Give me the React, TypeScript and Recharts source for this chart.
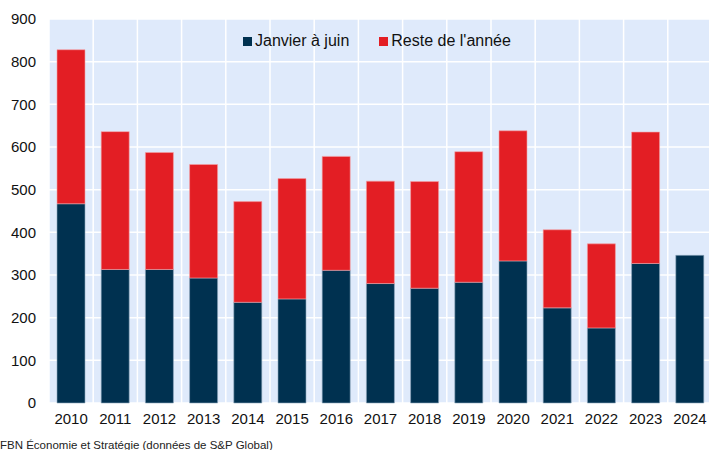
import { BarChart, Bar, XAxis, YAxis, CartesianGrid } from 'recharts';

const years = ['2010', '2011', '2012', '2013', '2014', '2015', '2016', '2017', '2018', '2019', '2020', '2021', '2022', '2023', '2024'];
const janJuin = [467, 313, 313, 293, 236, 244, 311, 280, 269, 283, 333, 223, 176, 327, 346];
const reste = [361, 323, 274, 266, 236, 282, 267, 240, 250, 306, 305, 183, 197, 308, 0];
const yTicks = [0, 100, 200, 300, 400, 500, 600, 700, 800, 900];

const DARK = '#003150';
const RED = '#e31e24';

const data = years.map((y, i) => ({ year: y, jan: janJuin[i], reste: reste[i] }));

// legend drawn as an overlay so it doesn't shrink the plot area
const LegendBox = () => (
  <div style={{ position: 'absolute', left: 243, top: 32, display: 'flex', gap: 30, fontSize: 16, color: '#111' }}>
    <div style={{ display: 'flex', alignItems: 'center', gap: 3 }}>
      <div style={{ width: 9, height: 9, background: DARK }} />
      <span>Janvier à juin</span>
    </div>
    <div style={{ display: 'flex', alignItems: 'center', gap: 3 }}>
      <div style={{ width: 9, height: 9, background: RED }} />
      <span>Reste de l'année</span>
    </div>
  </div>
);

export default function App() {
  return (
    <div style={{ position: 'absolute', left: 0, top: 0, width: 709, height: 450, overflow: 'hidden', background: '#fff', fontFamily: '"Liberation Sans", Arial, sans-serif' }}>
      <BarChart width={712} height={450} data={data} margin={{ top: 19, right: 0, bottom: 17, left: 0 }}>
        <CartesianGrid
          fill="#dfeafb"
          stroke="#ffffff"
          strokeWidth={1.5}
          verticalCoordinatesGenerator={({ offset }: any) =>
            years.map((_, i) => offset.left + (i * offset.width) / years.length).concat([offset.left + offset.width])
          }
        />
        <XAxis dataKey="year" tickLine={false} axisLine={false} tickSize={0} tickMargin={10} height={30} tick={{ fill: '#111', fontSize: 15 }} interval={0} />
        <YAxis domain={[0, 900]} ticks={yTicks} tickLine={false} axisLine={false} tickSize={0} tickMargin={13} width={49} tick={{ fill: '#111', fontSize: 15 }} />
        <Bar dataKey="jan" stackId="a" fill={DARK} barSize={28} stroke="#8fa7bd" strokeWidth={0.6} isAnimationActive={false} />
        <Bar dataKey="reste" stackId="a" fill={RED} barSize={28} stroke="#f3a3a6" strokeWidth={0.6} isAnimationActive={false} />
      </BarChart>
      <LegendBox />
      <div style={{ position: 'absolute', left: 0, top: 439, fontSize: 11.5, color: '#222', whiteSpace: 'nowrap' }}>
        FBN Économie et Stratégie (données de S&amp;P Global)
      </div>
    </div>
  );
}
